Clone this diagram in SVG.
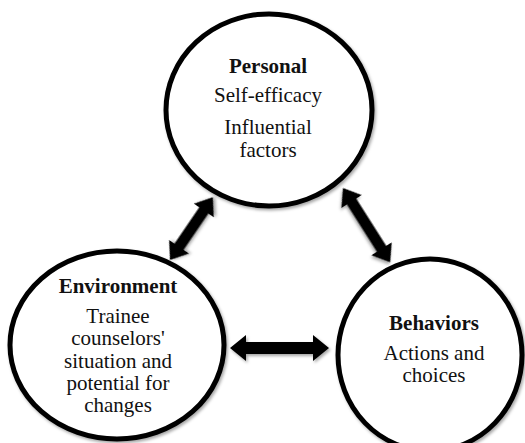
<svg xmlns="http://www.w3.org/2000/svg" width="525" height="443" viewBox="0 0 525 443">
  <defs>
    <filter id="sh" x="-20%" y="-20%" width="140%" height="140%">
      <feDropShadow dx="1.5" dy="2" stdDeviation="1.5" flood-color="#000" flood-opacity="0.35"/>
    </filter>
  </defs>
  <style>
    .node { fill: #fff; stroke: #000; stroke-width: 5; filter: url(#sh); }
    .arrow { fill: #000; filter: url(#sh); }
    text { font-family: "Liberation Serif", "Times New Roman", serif; font-size: 21px; fill: #111; text-anchor: middle; }
    .title { font-weight: bold; }
  </style>
  <rect width="525" height="443" fill="#fff"/>
  <g id="connectors">
    <polygon class="arrow" transform="translate(170,260) rotate(-55.7)" points="0,0 16,-12 16,-5.5 60,-5.5 60,-12 76,0 60,12 60,5.5 16,5.5 16,12"/>
    <polygon class="arrow" transform="translate(343,188) rotate(57.6)" points="0,0 16,-12 16,-5.5 72,-5.5 72,-12 88,0 72,12 72,5.5 16,5.5 16,12"/>
    <polygon class="arrow" transform="translate(230,348)" points="0,0 16,-13 16,-6 83,-6 83,-13 99,0 83,13 83,6 16,6 16,13"/>
  </g>
  <g id="personal">
    <ellipse class="node" cx="269" cy="110" rx="103" ry="96"/>
    <text class="title" x="268" y="73">Personal</text>
    <text x="268" y="102">Self-efficacy</text>
    <text x="268" y="134">Influential</text>
    <text x="268" y="157">factors</text>
  </g>
  <g id="environment">
    <ellipse class="node" cx="117" cy="345" rx="107" ry="94"/>
    <text class="title" x="118" y="293">Environment</text>
    <text x="118" y="323">Trainee</text>
    <text x="118" y="345">counselors'</text>
    <text x="118" y="368">situation and</text>
    <text x="118" y="390">potential for</text>
    <text x="118" y="412">changes</text>
  </g>
  <g id="behaviors">
    <ellipse class="node" cx="430" cy="355" rx="92" ry="96"/>
    <text class="title" x="434" y="330">Behaviors</text>
    <text x="434" y="360">Actions and</text>
    <text x="434" y="382">choices</text>
  </g>
</svg>
